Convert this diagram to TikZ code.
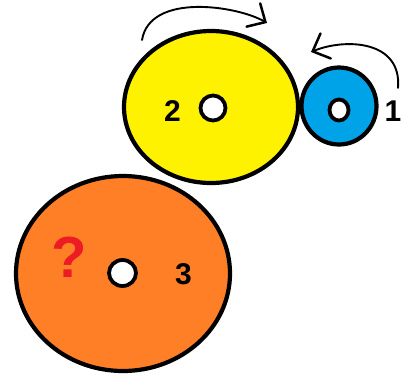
\documentclass[tikz,border=0pt]{standalone}
\usepackage{fontspec}
\setmainfont{Liberation Sans}
\usetikzlibrary{shapes.geometric,arrows.meta}
\definecolor{gyellow}{HTML}{FFF200}
\definecolor{gblue}{HTML}{00A2E8}
\definecolor{gorange}{HTML}{FF7F27}
\definecolor{qred}{HTML}{ED1C24}
\tikzset{
  gear/.style={ellipse, draw=black, line width=4.2pt, inner sep=0pt, outer sep=0pt},
  hole/.style={ellipse, draw=black, fill=white, line width=3.8pt, inner sep=0pt, outer sep=0pt},
  num/.style={font=\bfseries\fontsize{30}{30}\selectfont, inner sep=0pt},
  turn/.style={line width=1.9pt, line cap=round, -{Straight Barb[length=14pt,width=27pt,line width=2.5pt,line cap=round]}}
}
\begin{document}
\begin{tikzpicture}[x=1pt,y=-1pt]
\useasboundingbox[fill=white] (0,0) rectangle (401,376);
% gears
\node[gear, fill=gorange, minimum width=214pt, minimum height=195pt] (g3) at (123,273.5) {};
\node[gear, fill=gyellow, minimum width=174pt, minimum height=152pt] (g2) at (211,107) {};
\node[gear, fill=gblue, minimum width=75pt, minimum height=77pt] (g1) at (339,106) {};
% holes
\node[hole, minimum width=25pt, minimum height=25pt] (h2) at (213,108) {};
\node[hole, minimum width=19pt, minimum height=21pt] (h1) at (339,110) {};
\node[hole, minimum width=27pt, minimum height=26pt] (h3) at (122.5,273) {};
% labels
\node[num] (l2) at (172.5,111) {2};
\node[num] (l1) at (393,111) {1};
\node[num] (l3) at (183.5,274) {3};
\node[inner sep=0pt, text=qred, font=\bfseries\fontsize{58}{58}\selectfont] (q) at (69,257) {?};
% rotation arrows
\coordinate (a1s) at (142,40);
\coordinate (a1e) at (267,23);
\coordinate (a2s) at (398,88);
\coordinate (a2e) at (311,52);
\draw[turn] (a1s) .. controls (150,-8) and (238,6) .. (a1e);
\draw[turn] (a2s) .. controls (402,40) and (345,38) .. (a2e);
\end{tikzpicture}
\end{document}
